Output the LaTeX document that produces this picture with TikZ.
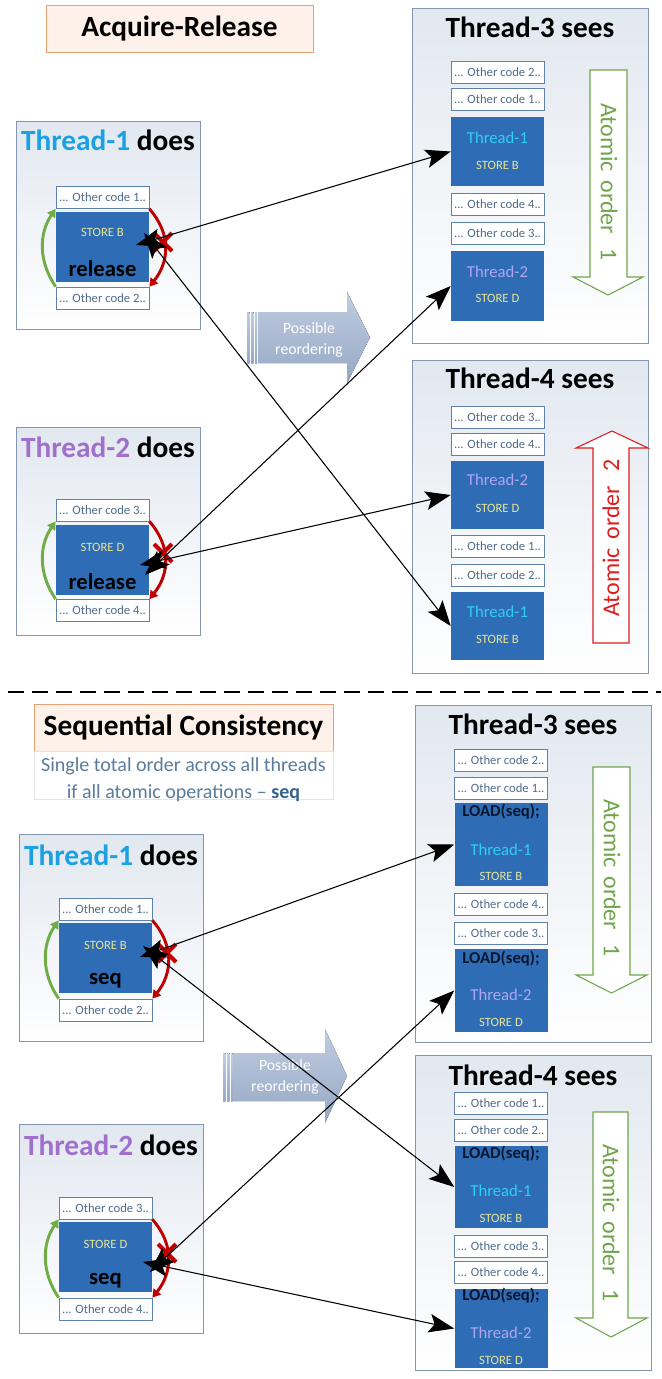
\documentclass[tikz,border=0pt]{standalone}
\usepackage{fontspec}
\setmainfont{Carlito}
\usetikzlibrary{arrows.meta}

\definecolor{titleline}{RGB}{232,160,118}
\definecolor{titlefill}{RGB}{253,241,234}
\definecolor{subline}{RGB}{228,228,228}
\definecolor{frameline}{RGB}{132,150,176}
\definecolor{frametop}{RGB}{226,232,240}
\definecolor{codeline}{RGB}{95,130,170}
\definecolor{codetext}{RGB}{80,108,140}
\definecolor{opblue}{RGB}{46,109,181}
\definecolor{storeyel}{RGB}{232,228,150}
\definecolor{thone}{RGB}{27,161,226}
\definecolor{thtwo}{RGB}{160,112,204}
\definecolor{opone}{RGB}{50,205,250}
\definecolor{optwo}{RGB}{175,165,240}
\definecolor{arcred}{RGB}{192,0,0}
\definecolor{arcgreen}{RGB}{112,173,71}
\definecolor{ordgreen}{RGB}{112,165,75}
\definecolor{ordred}{RGB}{220,30,30}
\definecolor{reotop}{RGB}{192,205,225}
\definecolor{reobot}{RGB}{150,168,196}
\definecolor{subtext}{RGB}{90,124,158}
\definecolor{subseq}{RGB}{52,98,145}
\definecolor{loadtext}{RGB}{10,22,45}

\begin{document}
\begin{tikzpicture}[x=0.75pt,y=-0.75pt,
  titlebox/.style={draw=titleline,fill=titlefill,line width=0.7pt,minimum width=200.25pt,minimum height=35.25pt,inner sep=0pt,font=\fontsize{22}{26}\selectfont\bfseries},
  threadframe/.style={draw=frameline,top color=frametop,bottom color=white,line width=0.8pt,anchor=north west,inner sep=0pt},
  headtxt/.style={font=\fontsize{22}{26}\selectfont\bfseries,inner sep=0pt},
  codebox/.style={draw=codeline,fill=white,line width=0.6pt,minimum width=69.75pt,minimum height=16.5pt,inner sep=0pt,text=codetext,font=\fontsize{9.5}{11}\selectfont},
  opbox/.style={fill=opblue,minimum width=69.75pt,inner sep=0pt},
  storetxt/.style={text=storeyel,font=\fontsize{9.5}{11}\selectfont,inner sep=0pt},
  optxt/.style={font=\fontsize{17}{20}\selectfont\bfseries,inner sep=0pt},
  thtxt/.style={font=\fontsize{12.5}{14}\selectfont,inner sep=0pt},
  loadtxt/.style={text=loadtext,font=\fontsize{12.5}{14}\selectfont\bfseries,inner sep=0pt},
  ordtxt/.style={font=\fontsize{18}{20}\selectfont,inner sep=0pt},
  reorder/.style={top color=reotop,bottom color=reobot,draw=none},
  reotxt/.style={text=white,align=center,font=\fontsize{11.8}{15.75}\selectfont,inner sep=0pt},
  subtxt/.style={text=subtext,align=center,font=\fontsize{15}{20}\selectfont,inner sep=0pt},
  link/.style={{Stealth[length=19pt,width=14pt,inset=4pt]}-{Stealth[length=19pt,width=14pt,inset=4pt]},line width=0.8pt},
  redarc/.style={arcred,line width=2.2pt,-{Triangle[length=6pt,width=7pt]}},
  greenarc/.style={arcgreen,line width=2.2pt,-{Triangle[length=6pt,width=7pt]}},
  nox/.style={arcred,line width=3pt}]
\useasboundingbox (0,0) rectangle (661,1379);

\node[titlebox] (artitle) at (179.5,28.5) {Acquire-Release};

\node[threadframe,minimum width=138pt,minimum height=156pt] (ta) at (16,121) {};
\node[headtxt] (tahead) at (108,140) {\textcolor{thone}{Thread-1} does};
\node[codebox] (tac1) at (102.5,197.5) {... Other code 1..};
\node[opbox,minimum height=52.5pt] (tas) at (102.5,247) {};
\node[storetxt] (tastore) at (102.5,232) {STORE B};
\node[optxt] (tarel) at (102.5,269) {release};
\node[codebox] (tac2) at (102.5,298) {... Other code 2..};

\node[threadframe,minimum width=138pt,minimum height=156pt] (tb) at (16,427) {};
\node[headtxt] (tbhead) at (108,447) {\textcolor{thtwo}{Thread-2} does};
\node[codebox] (tbc3) at (102.5,510) {... Other code 3..};
\node[opbox,minimum height=52.5pt] (tbs) at (102.5,559.5) {};
\node[storetxt] (tbstore) at (102.5,547) {STORE D};
\node[optxt] (tbrel) at (102.5,582) {release};
\node[codebox] (tbc4) at (102.5,610.5) {... Other code 4..};

\node[threadframe,minimum width=177pt,minimum height=251.25pt] (tc) at (412,8) {};
\node[headtxt] (tchead) at (530,27) {Thread-3 sees};
\node[codebox] (tcc2) at (497.5,72) {... Other code 2..};
\node[codebox] (tcc1) at (497.5,99.5) {... Other code 1..};
\node[opbox,minimum height=51.75pt] (tcs1) at (497.5,151.5) {};
\node[thtxt,text=opone] (tct1) at (497.5,138) {Thread-1};
\node[storetxt] (tcst1) at (497.5,165) {STORE B};
\node[codebox] (tcc4) at (497.5,204.5) {... Other code 4..};
\node[codebox] (tcc3) at (497.5,233) {... Other code 3..};
\node[opbox,minimum height=52.5pt] (tcs2) at (497.5,286) {};
\node[thtxt,text=optwo] (tct2) at (497.5,272) {Thread-2};
\node[storetxt] (tcst2) at (497.5,298) {STORE D};
\draw[draw=ordgreen,fill=white,line width=0.8pt] (590,70) -- (627,70) -- (627,277) -- (643,277) -- (608,295) -- (573,277) -- (590,277) -- cycle;
\node[ordtxt,text=ordgreen,rotate=-90] (tcord) at (609,182) {Atomic\hspace{0.35em}order\hspace{0.6em}1};

\node[threadframe,minimum width=177pt,minimum height=234.75pt] (td) at (412,360) {};
\node[headtxt] (tdhead) at (530,378) {Thread-4 sees};
\node[codebox] (tdc3) at (497.5,417.5) {... Other code 3..};
\node[codebox] (tdc4) at (497.5,444) {... Other code 4..};
\node[opbox,minimum height=51pt] (tds2) at (497.5,495) {};
\node[thtxt,text=optwo] (tdt2) at (497.5,480) {Thread-2};
\node[storetxt] (tdst2) at (497.5,508) {STORE D};
\node[codebox] (tdc1) at (497.5,546.5) {... Other code 1..};
\node[codebox] (tdc2) at (497.5,575) {... Other code 2..};
\node[opbox,minimum height=51pt] (tds1) at (497.5,626) {};
\node[thtxt,text=opone] (tdt1) at (497.5,612) {Thread-1};
\node[storetxt] (tdst1) at (497.5,639) {STORE B};
\draw[draw=ordred,fill=white,line width=0.8pt] (593,643) -- (629,643) -- (629,448) -- (648,448) -- (612,431) -- (576,448) -- (593,448) -- cycle;
\node[ordtxt,text=ordred,rotate=90] (tdord) at (611,538) {Atomic\hspace{0.35em}order\hspace{0.6em}2};

\fill[reorder] (258,312) -- (347,312) -- (347,292) -- (370,337.5) -- (347,383) -- (347,363) -- (258,363) -- cycle;
\fill[reorder] (247,312) rectangle (249.5,363);
\fill[reorder] (251,312) rectangle (253.5,363);
\fill[reorder] (255,312) rectangle (257,363);
\node[reotxt] (rtop) at (309,339.5) {Possible\\reordering};

\draw[greenarc] (tac2.north west) .. controls +(-17,-25) and +(-17,25) .. (tac1.south west);
\draw[redarc] (tac1.south east) .. controls +(22,25) and +(20,-25) .. (tac2.north east);
\draw[nox] (154,233) -- (172,251) (154,251) -- (172,233);
\draw[greenarc] (tbc4.north west) .. controls +(-17,-25) and +(-17,25) .. (tbc3.south west);
\draw[redarc] (tbc3.south east) .. controls +(22,25) and +(20,-25) .. (tbc4.north east);
\draw[nox] (154,544) -- (172,562) (154,562) -- (172,544);

\coordinate (taa) at (136,245);
\coordinate (tab) at (144,233);
\coordinate (tba) at (145,575);
\coordinate (tbb) at (140,565);
\draw[link] (taa) -- (tcs1.west);
\draw[link] (tab) -- (tds1.west);
\draw[link] (tba) -- (tcs2.west);
\draw[link] (tbb) -- (tds2.west);

\draw[line width=1.1pt,dash pattern=on 12pt off 6pt] (8,692) -- (661,692);

\node[titlebox,minimum width=224.25pt] (sctitle) at (183.5,727.5) {Sequential Consistency};
\node[draw=subline,fill=white,line width=0.5pt,minimum width=224.25pt,minimum height=36pt,inner sep=0pt] (scsub) at (183.5,775) {};
\node[subtxt] (scsubtxt) at (183.5,779.5) {Single total order across all threads\\if all atomic operations -- \textcolor{subseq}{\textbf{seq}}};

\node[threadframe,minimum width=138pt,minimum height=155.25pt] (sa) at (19,834) {};
\node[headtxt] (sahead) at (111,855) {\textcolor{thone}{Thread-1} does};
\node[codebox] (sac1) at (105.5,909) {... Other code 1..};
\node[opbox,minimum height=52.5pt] (sas) at (105.5,958) {};
\node[storetxt] (sastore) at (105.5,945) {STORE B};
\node[optxt] (saseq) at (105.5,981) {seq};
\node[codebox] (sac2) at (105.5,1010) {... Other code 2..};

\node[threadframe,minimum width=138pt,minimum height=156.75pt] (sb) at (19,1124) {};
\node[headtxt] (sbhead) at (111,1145) {\textcolor{thtwo}{Thread-2} does};
\node[codebox] (sbc3) at (105.5,1208) {... Other code 3..};
\node[opbox,minimum height=52.5pt] (sbs) at (105.5,1257) {};
\node[storetxt] (sbstore) at (105.5,1244) {STORE D};
\node[optxt] (sbseq) at (105.5,1281) {seq};
\node[codebox] (sbc4) at (105.5,1309) {... Other code 4..};

\node[threadframe,minimum width=177pt,minimum height=252.75pt] (sc) at (415,705) {};
\node[headtxt] (schead) at (533,724) {Thread-3 sees};
\node[codebox] (scc2) at (501,760) {... Other code 2..};
\node[codebox] (scc1) at (501,788) {... Other code 1..};
\node[opbox,minimum height=62.25pt] (scs1) at (501,844.5) {};
\node[loadtxt] (scl1) at (501,812) {LOAD(seq);};
\node[thtxt,text=opone] (sct1) at (501,850) {Thread-1};
\node[storetxt] (scst1) at (501,876) {STORE B};
\node[codebox] (scc4) at (501,904.5) {... Other code 4..};
\node[codebox] (scc3) at (501,933) {... Other code 3..};
\node[opbox,minimum height=62.25pt] (scs2) at (501,990.5) {};
\node[loadtxt] (scl2) at (501,959) {LOAD(seq);};
\node[thtxt,text=optwo] (sct2) at (501,995) {Thread-2};
\node[storetxt] (scst2) at (501,1022) {STORE D};
\draw[draw=ordgreen,fill=white,line width=0.8pt] (593,767) -- (630,767) -- (630,975) -- (647,975) -- (611.5,993) -- (576,975) -- (593,975) -- cycle;
\node[ordtxt,text=ordgreen,rotate=-90] (scord) at (612,878) {Atomic\hspace{0.35em}order\hspace{0.6em}1};

\node[threadframe,minimum width=177pt,minimum height=236.25pt] (sd) at (415,1055) {};
\node[headtxt] (sdhead) at (533,1075) {Thread-4 sees};
\node[codebox] (sdc1) at (501,1103) {... Other code 1..};
\node[codebox] (sdc2) at (501,1130) {... Other code 2..};
\node[opbox,minimum height=61.5pt] (sds1) at (501,1187) {};
\node[loadtxt] (sdl1) at (501,1154) {LOAD(seq);};
\node[thtxt,text=opone] (sdt1) at (501,1191) {Thread-1};
\node[storetxt] (sdst1) at (501,1218) {STORE B};
\node[codebox] (sdc3) at (501,1246) {... Other code 3..};
\node[codebox] (sdc4) at (501,1272.5) {... Other code 4..};
\node[opbox,minimum height=59.25pt] (sds2) at (501,1328.5) {};
\node[loadtxt] (sdl2) at (501,1296) {LOAD(seq);};
\node[thtxt,text=optwo] (sdt2) at (501,1333) {Thread-2};
\node[storetxt] (sdst2) at (501,1360) {STORE D};
\draw[draw=ordgreen,fill=white,line width=0.8pt] (593,1112) -- (628,1112) -- (628,1318) -- (647,1318) -- (611,1337) -- (576,1318) -- (593,1318) -- cycle;
\node[ordtxt,text=ordgreen,rotate=-90] (sdord) at (611,1223) {Atomic\hspace{0.35em}order\hspace{0.6em}1};

\fill[reorder] (233,1053) -- (325,1053) -- (325,1029) -- (347,1076) -- (325,1123) -- (325,1101) -- (233,1101) -- cycle;
\fill[reorder] (223,1053) rectangle (225.5,1101);
\fill[reorder] (227,1053) rectangle (229.5,1101);
\fill[reorder] (231,1053) rectangle (232.5,1101);
\node[reotxt] (rbot) at (285,1077) {Possible\\reordering};

\draw[greenarc] (sac2.north west) .. controls +(-17,-25) and +(-17,25) .. (sac1.south west);
\draw[redarc] (sac1.south east) .. controls +(22,25) and +(20,-25) .. (sac2.north east);
\draw[nox] (158,944) -- (176,962) (158,962) -- (176,944);
\draw[greenarc] (sbc4.north west) .. controls +(-17,-25) and +(-17,25) .. (sbc3.south west);
\draw[redarc] (sbc3.south east) .. controls +(22,25) and +(20,-25) .. (sbc4.north east);
\draw[nox] (158,1244) -- (176,1262) (158,1262) -- (176,1244);

\coordinate (saa) at (140,957);
\coordinate (sab) at (143,946);
\coordinate (sba) at (150,1272);
\coordinate (sbb) at (143,1262);
\draw[link] (saa) -- (scs1.west);
\draw[link] (sab) -- (sds1.west);
\draw[link] (sba) -- (scs2.west);
\draw[link] (sbb) -- (sds2.west);
\end{tikzpicture}
\end{document}
